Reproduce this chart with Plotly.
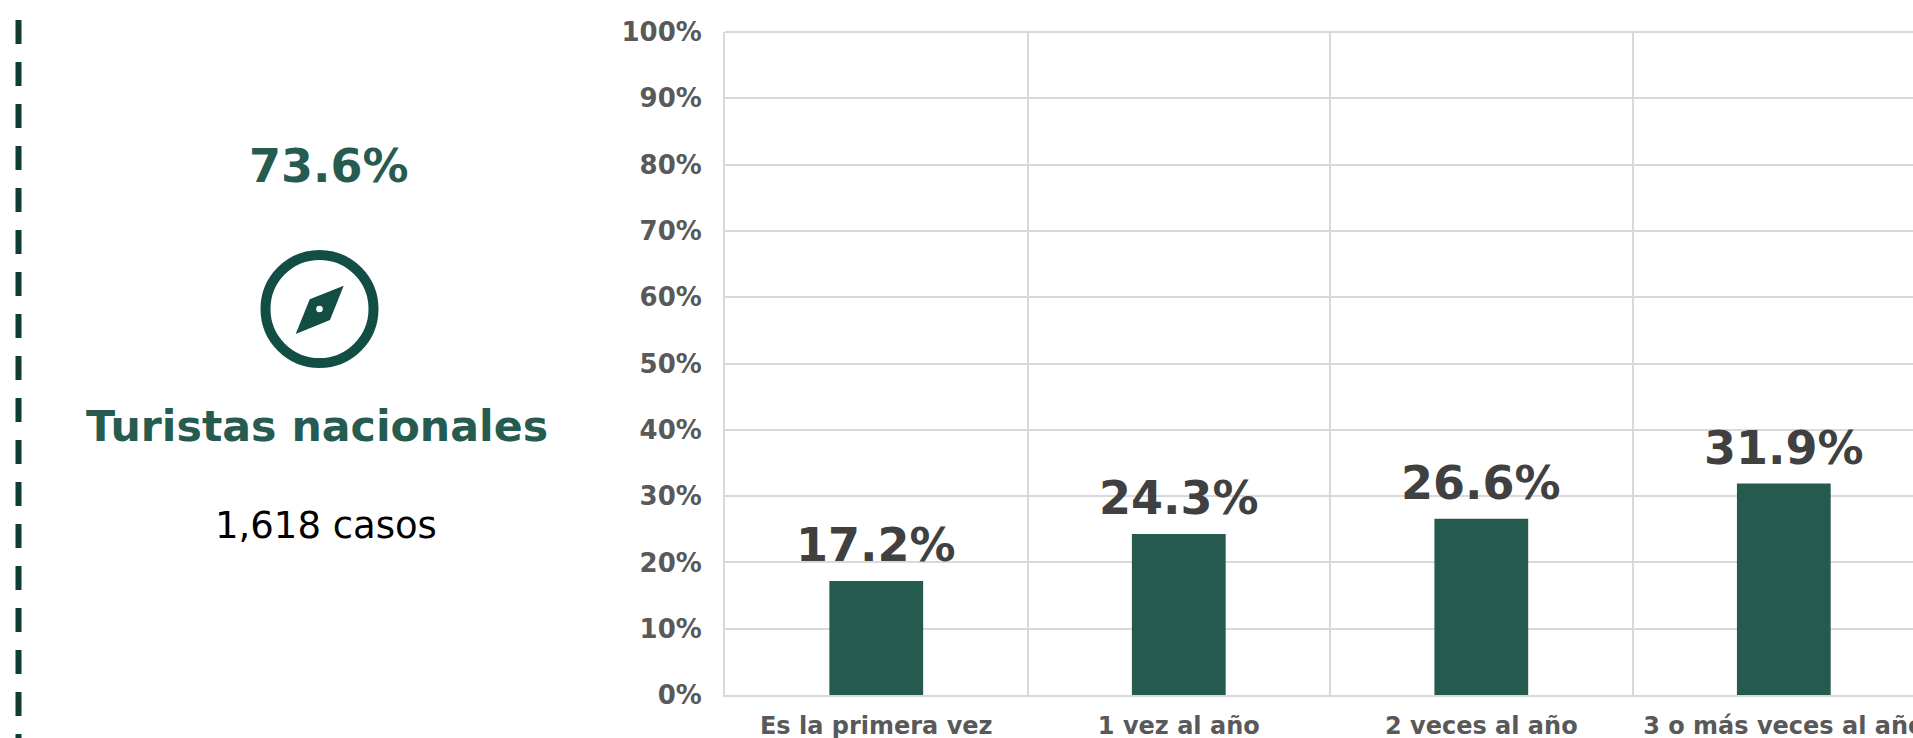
import plotly.graph_objects as go

categories = ["Es la primera vez", "1 vez al año", "2 veces al año", "3 o más veces al año"]
values = [17.2, 24.3, 26.6, 31.9]
y_ticks = [0, 10, 20, 30, 40, 50, 60, 70, 80, 90, 100]
y_tick_labels = [f"{v}%" for v in y_ticks]
share_label = "73.6%"
group_label = "Turistas nacionales"
cases_label = "1,618 casos"

W, H = 1913, 738
FONT = "DejaVu Sans"
BAR = "#255b4f"
TITLE = "#265c50"
ICON = "#134e44"
DASH = "#0f3d33"
GRID = "#d9d9d9"
TICK = "#595959"
LABEL = "#404040"

def fx(p):
    return p / W

def fy(p):
    return 1 - p / H

fig = go.Figure(go.Bar(x=categories, y=values, width=0.31, marker=dict(color=BAR, line=dict(width=0))))

annotations = [
    dict(x=c, y=v, xref="x", yref="y", text=f"{v}%", showarrow=False, yanchor="bottom", yshift=7,
         font=dict(family=FONT, size=46, color=LABEL, weight="bold"))
    for c, v in zip(categories, values)
]
for txt, x, y, size, color, weight in [
    (share_label, 329, 166, 46, TITLE, "bold"),
    (group_label, 317, 426, 42.7, TITLE, "bold"),
    (cases_label, 326, 525, 37, "#000000", "normal"),
]:
    annotations.append(dict(x=fx(x), y=fy(y), xref="paper", yref="paper", text=txt, showarrow=False,
                            xanchor="center", yanchor="middle",
                            font=dict(family=FONT, size=size, color=color, weight=weight)))

cx, cy = 319.5, 309
ring = 54
hole = 3.3
def pt(x, y):
    return f"{fx(x)},{fy(y)}"

diamond = "M" + " L".join(pt(x, y) for x, y in [(343.7, 285.7), (330, 320), (295.7, 334), (309.7, 299.3)]) + " Z"

shapes = [
    dict(type="line", xref="paper", yref="paper", x0=fx(18.5), x1=fx(18.5), y0=fy(20), y1=fy(H),
         line=dict(color=DASH, width=6, dash="24px,18px")),
    dict(type="circle", xref="paper", yref="paper", x0=fx(cx - ring), x1=fx(cx + ring), y0=fy(cy + ring), y1=fy(cy - ring),
         line=dict(color=ICON, width=10), fillcolor="rgba(0,0,0,0)"),
    dict(type="path", xref="paper", yref="paper", path=diamond, fillcolor=ICON, line=dict(width=0)),
    dict(type="circle", xref="paper", yref="paper", x0=fx(cx - hole), x1=fx(cx + hole), y0=fy(cy + hole), y1=fy(cy - hole),
         fillcolor="#ffffff", line=dict(width=0)),
    dict(type="line", xref="paper", yref="paper", x0=fx(725), x1=1, y0=fy(32), y1=fy(32),
         line=dict(color=GRID, width=2), layer="below"),
]

fig.update_layout(
    width=W, height=H, margin=dict(l=0, r=0, t=0, b=0, autoexpand=False),
    paper_bgcolor="#ffffff", plot_bgcolor="#ffffff", showlegend=False,
    annotations=annotations, shapes=shapes,
    xaxis=dict(domain=[fx(725), 1], type="category", categoryorder="array", categoryarray=categories,
               range=[-0.5, 3.427], tickson="boundaries", showgrid=True, gridcolor=GRID, gridwidth=2,
               ticks="", showline=True, linecolor=GRID, linewidth=2, tickangle=0, zeroline=False,
               automargin=False, ticklabelstandoff=8,
               tickfont=dict(family=FONT, size=24, color=TICK, weight="bold")),
    yaxis=dict(domain=[fy(695), fy(32)], range=[0, 100], tickmode="array", tickvals=y_ticks, ticktext=y_tick_labels,
               showgrid=True, gridcolor=GRID, gridwidth=2, zeroline=False, showline=True, linecolor=GRID, linewidth=2,
               ticks="", automargin=False, ticklabelstandoff=16,
               tickfont=dict(family=FONT, size=26, color=TICK, weight="bold")),
)

fig.write_html("out.html", config=dict(displayModeBar=False),
               post_script="document.body.style.margin='0';document.documentElement.style.overflow='hidden';")
